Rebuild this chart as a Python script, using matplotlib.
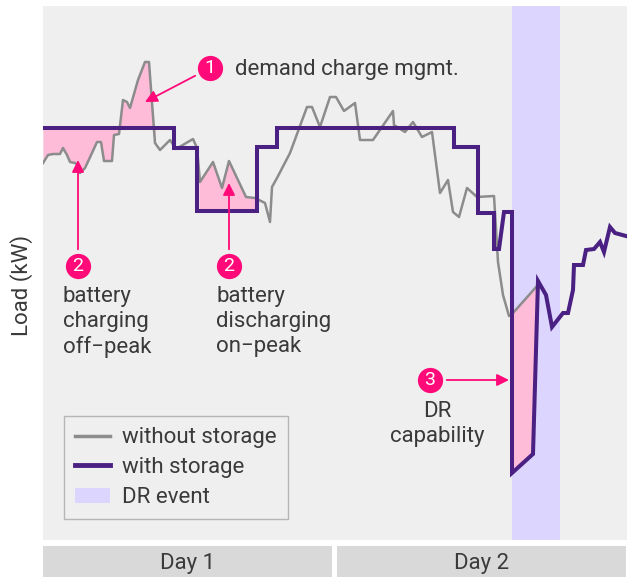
import numpy as np
import matplotlib.pyplot as plt
from matplotlib.patches import Rectangle, Patch
from matplotlib.lines import Line2D

plt.rcParams['font.family'] = ['Roboto', 'DejaVu Sans']

# load profile without storage (time step, load)
t_base = [0, 5, 10, 17, 20, 24, 27, 32, 35, 37, 42, 49, 54, 58, 61, 69, 71, 76, 80, 84,
          87, 95, 102, 106, 112, 117, 127, 133, 150, 154, 157, 170, 179, 186, 203, 212,
          222, 227, 229, 234, 247, 264, 269, 277, 287, 293, 301, 312, 317, 330, 350, 351,
          362, 370, 379, 389, 397, 405, 410, 416, 424, 434, 451, 455, 460, 466, 470, 494]
load_base = [377, 385, 386, 386, 392, 385, 378, 377, 375, 367, 372, 387, 398, 398, 379, 379,
             405, 406, 440, 438, 432, 460, 478, 478, 397, 390, 400, 391, 401, 392, 358, 378,
             352, 379, 343, 342, 337, 318, 353, 362, 387, 433, 433, 413, 443, 443, 429, 437,
             400, 400, 429, 415, 408, 418, 403, 408, 347, 360, 328, 323, 352, 343, 344, 278,
             245, 224, 227, 254]

# load profile with storage
t_stor = [0, 131, 131, 154, 154, 214, 214, 234, 234, 411, 411, 435, 435, 451, 451, 456,
          461, 469, 469, 490, 495, 503, 509, 520, 525, 530, 531, 540, 543, 551, 557, 561,
          567, 572, 583]
load_stor = [412, 412, 392, 392, 329, 329, 393, 393, 412, 412, 393, 393, 327, 327, 291, 291,
             328, 328, 67, 86, 259, 245, 213, 227, 227, 250, 275, 275, 290, 291, 298, 288,
             313, 307, 304]

dr_event = (469, 517)
fill_ranges = [(0, 112), (156, 214), (469.5, 495)]

bg = '#efefef'
gray = '#8c8c8c'
purple = '#4a2183'
pink = '#ffbcd9'
dr_col = '#dcd6ff'
mag = '#ff0a78'
txt = '#3a3a3a'
fs = 16

fig = plt.figure(figsize=(6.31, 5.77), dpi=100)
ax = fig.add_axes([43 / 631, 37 / 577, 584 / 631, 534 / 577])
ax.set_facecolor(bg)
ax.set_xlim(0, 584)
ax.set_ylim(0, 534)
for s in ax.spines.values():
    s.set_visible(False)
ax.set_xticks([])
ax.set_yticks([])

ax.axvspan(*dr_event, color=dr_col, lw=0, zorder=1)

for a, b in fill_ranges:
    tt = np.linspace(a, b, 400)
    ax.fill_between(tt, np.interp(tt, t_base, load_base), np.interp(tt, t_stor, load_stor),
                    color=pink, lw=0, zorder=2)

ax.plot(t_base, load_base, color=gray, lw=1.8, zorder=3)
ax.plot(t_stor, load_stor, color=purple, lw=2.9, zorder=4, solid_joinstyle='miter')

# numbered callouts
circles = [(167, 472, '1'), (35, 274, '2'), (186, 274, '2'), (387, 160, '3')]
tips = [(102, 438), (35, 380), (186, 357), (466, 160)]
for (cx, cy, n), tip in zip(circles, tips):
    ax.annotate('', xy=tip, xytext=(cx, cy),
                arrowprops=dict(arrowstyle='-|>', color=mag, lw=1.3, shrinkA=12, shrinkB=0,
                                mutation_scale=18), zorder=5)
    ax.scatter([cx], [cy], s=330, color=mag, zorder=6, lw=0)
    ax.text(cx, cy, n, color='white', fontsize=14, ha='center', va='center', zorder=7)

ax.text(192, 470, 'demand charge mgmt.', fontsize=fs, color=txt, va='center')
ax.text(20, 254, 'battery\ncharging\noff\u2212peak', fontsize=fs, color=txt, va='top',
        linespacing=1.25)
ax.text(173, 254, 'battery\ndischarging\non\u2212peak', fontsize=fs, color=txt, va='top',
        linespacing=1.25)
ax.text(394, 139, 'DR\ncapability', fontsize=fs, color=txt, va='top', ha='center',
        multialignment='center', linespacing=1.25)

handles = [Line2D([], [], color=gray, lw=2.5),
           Line2D([], [], color=purple, lw=3.5),
           Patch(facecolor=dr_col, edgecolor='none')]
leg = ax.legend(handles, ['without storage', 'with storage', 'DR event'], loc='lower left',
                bbox_to_anchor=(0.036, 0.039), borderaxespad=0, fontsize=fs, frameon=True,
                fancybox=False, facecolor=bg, edgecolor='#a8a8a8', handlelength=1.55,
                handletextpad=0.55, borderpad=0.5, labelspacing=0.4, labelcolor=txt)
leg.get_frame().set_linewidth(1.0)

fig.text(22 / 631, 1 - 285 / 577, 'Load (kW)', rotation=90, fontsize=fs, color=txt,
         ha='center', va='center')

# day strips
for x0, x1, label in [(43, 332, 'Day 1'), (337, 626, 'Day 2')]:
    fig.patches.append(Rectangle((x0 / 631, 0), (x1 - x0) / 631, 31 / 577,
                                 transform=fig.transFigure, color='#d9d9d9', lw=0))
    fig.text((x0 + x1) / 2 / 631, 1 - 564 / 577, label, fontsize=fs, color=txt,
             ha='center', va='center')

fig.savefig('out.png', dpi=100)
